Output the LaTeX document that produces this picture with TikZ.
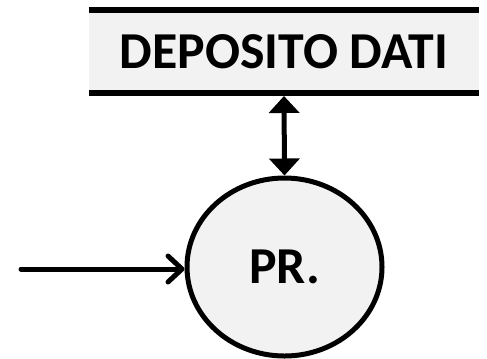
\documentclass[tikz,border=0pt]{standalone}
\usepackage{fontspec}
\setsansfont{Carlito}
\usetikzlibrary{arrows.meta,shapes.geometric}
\definecolor{panel}{HTML}{F2F2F2}
\tikzset{
  lbl/.style={font=\sffamily\bfseries\fontsize{52}{60}\selectfont, text=black},
  rule/.style={line width=6bp},
  flow/.style={line width=5bp},
}
\begin{document}
\begin{tikzpicture}[x=1bp,y=-1bp]
  \useasboundingbox (0,0) rectangle (487,358);
  % data store: shaded band between two heavy rules
  \node[lbl, fill=panel, minimum width=390bp, minimum height=83bp, inner sep=0pt, outer sep=0pt]
    (store) at (284,51.5) {DEPOSITO DATI};
  \draw[rule] (store.north west) -- (store.north east);
  \draw[rule] (store.south west) -- (store.south east);
  % process bubble
  \node[lbl, ellipse, draw, line width=5bp, fill=panel, minimum width=195bp, minimum height=178bp, inner sep=0pt]
    (pr) at (284.5,267) {PR.};
  % two-way flow between store and process
  \coordinate (storeedge) at ([yshift=-3bp]store.south);
  \draw[flow, {Triangle[length=17bp,width=30bp]}-{Triangle[length=17bp,width=30bp]}]
    (storeedge) -- (pr.north);
  % incoming flow
  \coordinate (src) at (21,269);
  \draw[flow, line cap=round, -{Straight Barb[length=14bp,width=26bp,round]}]
    (src) -- (src -| pr.west);
\end{tikzpicture}
\end{document}
